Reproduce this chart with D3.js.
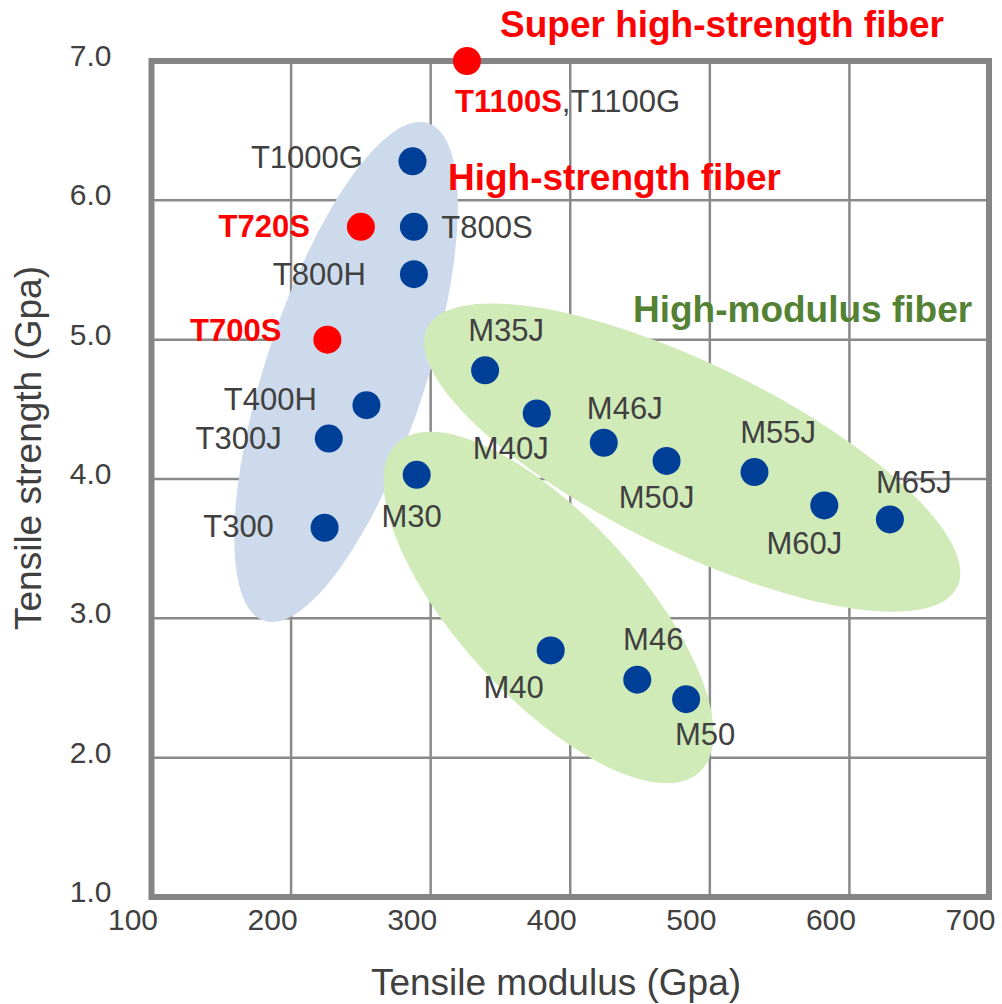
<!DOCTYPE html>
<html>
<head>
<meta charset="utf-8">
<script src="https://cdn.jsdelivr.net/npm/d3@7"></script>
<style>
  html, body { margin: 0; padding: 0; background: #fff; }
  svg { display: block; font-family: "Liberation Sans", Arial, Helvetica, sans-serif; }
</style>
</head>
<body>
<div id="chart"></div>
<script>
// ---------- data ----------
const fiberNames = ["T1100S","T1000G","T720S","T800S","T800H","T700S","T400H","T300J","T300","M30",
                    "M35J","M40J","M46J","M50J","M55J","M60J","M65J","M40","M46","M50"];
const modulusGPa = [326, 287, 250, 288, 288, 226, 254, 227, 224, 290,
                    339, 376, 424, 469, 532, 582, 629, 386, 448, 483];
const strengthGPa = [7.00, 6.28, 5.81, 5.81, 5.47, 5.00, 4.53, 4.29, 3.65, 4.03,
                     4.78, 4.47, 4.26, 4.13, 4.05, 3.81, 3.71, 2.77, 2.56, 2.42];
const redFibers = ["T1100S", "T720S", "T700S"];
const xTicks = [100, 200, 300, 400, 500, 600, 700];
const yTicks = [1, 2, 3, 4, 5, 6, 7];
const xTitle = "Tensile modulus (Gpa)";
const yTitle = "Tensile strength (Gpa)";
const groupTitles = ["Super high-strength fiber", "High-strength fiber", "High-modulus fiber"];

// ---------- layout / style config ----------
const W = 1002, H = 1004;
const x = d3.scaleLinear().domain([100, 700]).range([151.5, 989]);
const y = d3.scaleLinear().domain([1, 7]).range([897, 61]);

// group ellipses: centre in data units, radii in px, rotation in degrees
const groupShapes = [
  { fill: "#cddaeb", cx: 239.4, cy: 4.768, rx: 80,  ry: 262, angle: 18.25 },
  { fill: "#d1ebb8", cx: 487.3, cy: 4.154, rx: 295, ry: 93,  angle: 26.05 },
  { fill: "#d1ebb8", cx: 384.4, cy: 3.078, rx: 223.5, ry: 90.5, angle: 47.5 }
];
const groupTitleStyle = [
  { color: "#ff0000", x: 500, y: 37 },
  { color: "#ff0000", x: 448, y: 190 },
  { color: "#548235", x: 633, y: 322 }
];
// label placement relative to its dot: [anchor, dx, dy]
const labelOffsets = {
  T1100S: ["start", -12, 51], T1000G: ["end", -49.6, 6.3], T720S: ["end", -51, 10],
  T800S: ["start", 27.4, 10.7], T800H: ["end", -48, 11], T700S: ["end", -46, 1],
  T400H: ["end", -49.6, 5], T300J: ["end", -47, 10], T300: ["end", -50.7, 9.7],
  M30: ["middle", -5, 51.7], M35J: ["middle", 21, -29], M40J: ["middle", -26, 45],
  M46J: ["middle", 21, -24], M50J: ["middle", -10, 47], M55J: ["middle", 23.6, -29.4],
  M60J: ["middle", -20, 48.6], M65J: ["middle", 24, -26], M40: ["middle", -37, 47.6],
  M46: ["middle", 16, -29.3], M50: ["middle", 19, 45.7]
};

const textGray = "#404040";
const gridColor = "#8a8a8a";
const blueDot = "#003f97";
const redDot = "#ff0000";

const data = fiberNames.map((n, i) => ({ name: n, mod: modulusGPa[i], str: strengthGPa[i], red: redFibers.includes(n) }));

const svg = d3.select("#chart").append("svg").attr("width", W).attr("height", H);

// gridlines
const x0 = x.range()[0], x1 = x.range()[1], y0 = y.range()[0], y1 = y.range()[1];
svg.append("g").selectAll("line").data(xTicks.slice(1, -1)).join("line")
  .attr("x1", d => x(d)).attr("x2", d => x(d)).attr("y1", y1).attr("y2", y0)
  .attr("stroke", gridColor).attr("stroke-width", 2.5);
svg.append("g").selectAll("line").data(yTicks.slice(1, -1)).join("line")
  .attr("x1", x0).attr("x2", x1).attr("y1", d => y(d)).attr("y2", d => y(d))
  .attr("stroke", gridColor).attr("stroke-width", 2.5);

// group ellipses
svg.append("g").selectAll("ellipse").data(groupShapes).join("ellipse")
  .attr("transform", d => `translate(${x(d.cx)},${y(d.cy)}) rotate(${d.angle})`)
  .attr("rx", d => d.rx).attr("ry", d => d.ry)
  .attr("fill", d => d.fill);

// frame
svg.append("rect").attr("x", x0).attr("y", y1).attr("width", x1 - x0).attr("height", y0 - y1)
  .attr("fill", "none").attr("stroke", "#858585").attr("stroke-width", 6);

// axes (labels only)
const xAxis = svg.append("g").attr("transform", `translate(0,${y0})`)
  .call(d3.axisBottom(x).tickValues(xTicks).tickFormat(d3.format("d")).tickSize(0).tickPadding(12));
xAxis.select(".domain").remove();
xAxis.selectAll("text").attr("dx", -19).attr("font-size", 30).attr("fill", textGray)
  .attr("font-family", "Liberation Sans, Arial, sans-serif");

const yAxis = svg.append("g").attr("transform", `translate(${x0},-4)`)
  .call(d3.axisLeft(y).tickValues(yTicks).tickFormat(d3.format(".1f")).tickSize(0).tickPadding(40));
yAxis.select(".domain").remove();
yAxis.selectAll("text").attr("dy", "0.28em").attr("font-size", 30).attr("fill", textGray)
  .attr("font-family", "Liberation Sans, Arial, sans-serif");

// axis titles
svg.append("text").attr("x", 556).attr("y", 995).attr("text-anchor", "middle")
  .attr("font-size", 37).attr("fill", textGray).text(xTitle);
svg.append("text").attr("transform", "translate(41,448) rotate(-90)").attr("text-anchor", "middle")
  .attr("font-size", 37).attr("fill", textGray).text(yTitle);

// dots
svg.append("g").selectAll("circle").data(data).join("circle")
  .attr("cx", d => x(d.mod)).attr("cy", d => y(d.str)).attr("r", 14)
  .attr("fill", d => d.red ? redDot : blueDot);

// point labels
const lab = svg.append("g").selectAll("text").data(data).join("text")
  .attr("x", d => x(d.mod) + labelOffsets[d.name][1])
  .attr("y", d => y(d.str) + labelOffsets[d.name][2])
  .attr("text-anchor", d => labelOffsets[d.name][0])
  .attr("font-size", 31)
  .attr("font-weight", d => d.red ? "bold" : "normal")
  .attr("fill", d => d.red ? redDot : textGray);
lab.each(function(d) {
  const t = d3.select(this);
  if (d.name === "T1100S") {
    t.append("tspan").text("T1100S");
    t.append("tspan").attr("font-weight", "normal").attr("fill", textGray).text(",T1100G");
  } else {
    t.text(d.name);
  }
});

// group titles
svg.append("g").selectAll("text").data(groupTitles).join("text")
  .attr("x", (d, i) => groupTitleStyle[i].x).attr("y", (d, i) => groupTitleStyle[i].y)
  .attr("font-size", 37).attr("font-weight", "bold")
  .attr("fill", (d, i) => groupTitleStyle[i].color).text(d => d);
</script>
</body>
</html>
